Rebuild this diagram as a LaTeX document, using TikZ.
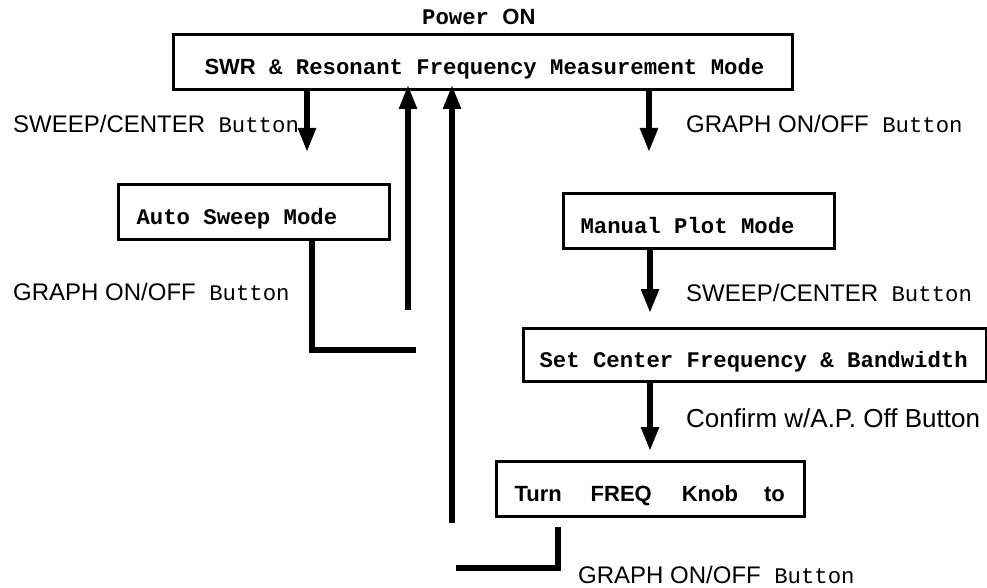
\documentclass[tikz,border=0pt]{standalone}
\usepackage{fontspec}
\usetikzlibrary{arrows.meta}
\newfontfamily\monof{Liberation Mono}
\newfontfamily\sansf{Liberation Sans}
\newcommand\fsz[1]{\fontsize{#1}{#1}\selectfont}
\newcommand\bx{\monof\bfseries\fsz{22.3}}
\newcommand\bxs{\sansf\bfseries\fsz{22}}
\newcommand\lbs{\sansf\fsz{24}}
\newcommand\lbm{\monof\fsz{22.3}}
\begin{document}
\begin{tikzpicture}[x=1pt,y=-1pt,
  box/.style={draw, line width=3pt, inner ysep=0pt, text height=25pt, text depth=0pt,
    anchor=north west},
  arr/.style={line width=5.5pt, -{Triangle[width=17pt,length=24pt]}},
  conn/.style={line width=5.5pt},
  lab/.style={anchor=base west, inner sep=0pt}]
\useasboundingbox (0,0) rectangle (987,588);

% title
\node[lab] (power) at (422,25) {{\bx Power\ }{\bxs ON}};

% boxes
\node[box, inner xsep=31pt, minimum height=55pt] (top) at (172,33)
  {\makebox[557pt][l]{{\bxs SWR}{\bx\ \&\ Resonant\ Frequency\ Measurement\ Mode}}};
\node[box, inner xsep=18pt, minimum height=55pt] (auto) at (117,183)
  {\makebox[235pt][l]{\bx Auto\ Sweep\ Mode}};
\node[box, inner xsep=17pt, minimum height=55pt] (manual) at (562,192)
  {\makebox[237pt][l]{\bx Manual\ Plot\ Mode}};
\node[box, inner xsep=16pt, minimum height=53pt] (setc) at (522,327)
  {\makebox[431pt][l]{\bx Set\ Center\ Frequency\ \&\ Bandwidth}};
\node[box, inner xsep=18pt, minimum height=55pt] (turn) at (495,460)
  {\makebox[272pt][l]{\bxs Turn\hspace{29pt}FREQ\hspace{30pt}Knob\hspace{26pt}to}};

% labels
\node[lab] (l1) at (13,133) {{\lbs SWEEP/CENTER}{\lbm\ Button}};
\node[lab] (l2) at (13,300) {{\lbs GRAPH ON/OFF}{\lbm\ Button}};
\node[lab] (l3) at (686,133) {{\lbs GRAPH ON/OFF}{\lbm\ Button}};
\node[lab] (l4) at (686,301) {{\lbs SWEEP/CENTER}{\lbm\ Button}};
\node[lab] (l5) at (686,427) {\sansf\fsz{26}Confirm w/A.P. Off Button};
\node[lab] (l6) at (578,583) {{\lbs GRAPH ON/OFF}{\lbm\ Button}};

% connector end points
\coordinate (a1) at (307,152);
\coordinate (a2) at (649,152);
\coordinate (a3) at (650,313);
\coordinate (a4) at (650,451);
\coordinate (u1) at (408,310);
\coordinate (u1t) at (408,85);
\coordinate (u2) at (452,523);
\coordinate (u2t) at (452,85);
\coordinate (c1) at (312,350);
\coordinate (c1e) at (416,350);
\coordinate (c2s) at (558,527);
\coordinate (c2) at (558,568);
\coordinate (c2e) at (456,568);

% arrows
\draw[arr] (top.south -| a1) -- (a1);
\draw[arr] (top.south -| a2) -- (a2);
\draw[arr] (manual.south -| a3) -- (a3);
\draw[arr] (setc.south -| a4) -- (a4);
\draw[arr] (u1) -- (u1t);
\draw[arr] (u2) -- (u2t);

% plain connectors
\draw[conn] (auto.south -| c1) -- (c1) -- (c1e);
\draw[conn] (c2s) -- (c2) -- (c2e);
\end{tikzpicture}
\end{document}
